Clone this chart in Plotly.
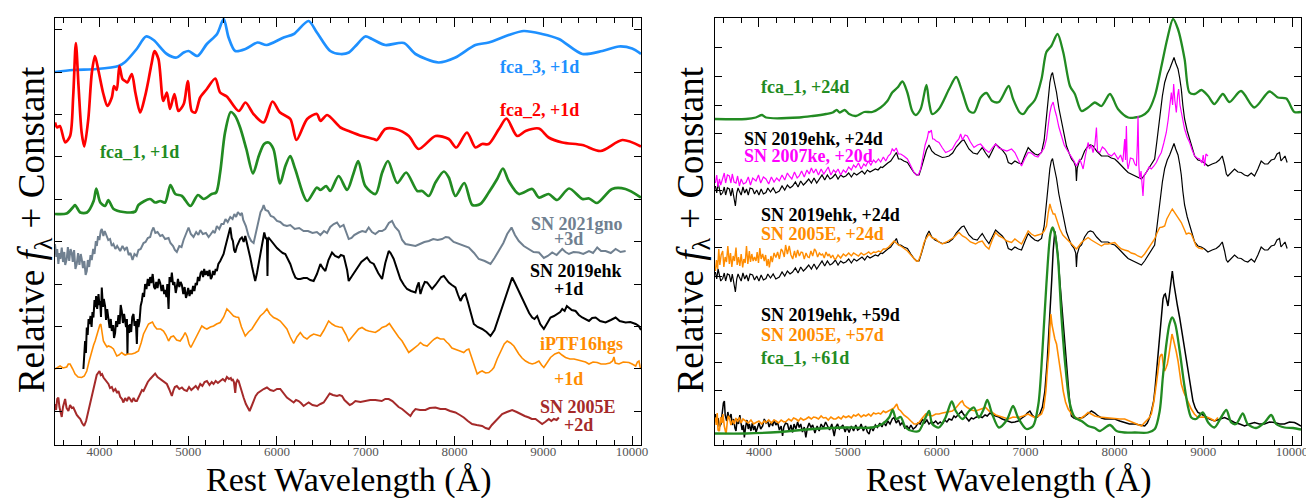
import plotly.graph_objects as go

# ---------------- DATA (rest wavelength in Angstrom, relative flux + constant, arbitrary units) ----------------
# ---- left panel: models at +1d ----
fca3_1d_wave = [3500, 3700, 3970, 4215, 4290, 4420, 4525, 4610, 4760, 4870, 4950, 5005, 5105, 5210, 5325, 5400,
                5455, 5530, 5645, 5780, 5885, 6075, 6190, 6355, 6450, 6600, 6715, 6810, 6885, 6995, 7070, 7220,
                7430, 7560, 7820, 8010, 8235, 8385, 8610, 8780, 8985, 9175, 9440, 9665, 9850, 10000, 10100]
fca3_1d_flux = [373, 375, 376, 379, 383, 396, 408.5, 405, 391, 387.5, 392.5, 394, 389, 401, 411, 426,
                407.5, 394, 396, 402.5, 400, 407.5, 411, 424, 412.5, 394, 391, 392.5, 399, 408.5, 406, 400,
                402, 391, 382.5, 387.5, 400, 402.5, 410, 414, 411, 406, 391, 394, 398.5, 396.5, 391]

fca2_1d_wave = [3500, 3525, 3555, 3615, 3670, 3705, 3735, 3765, 3800, 3830, 3875, 3915, 3950, 3990, 4045, 4090,
                4140, 4165, 4195, 4225, 4260, 4290, 4315, 4365, 4405, 4460, 4515, 4555, 4590, 4620, 4665, 4720,
                4760, 4795, 4845, 4890, 4950, 4995, 5040, 5080, 5135, 5210, 5305, 5360, 5435, 5570, 5645, 5735,
                5850, 5950, 6035, 6150, 6220, 6340, 6450, 6490, 6565, 6715, 6810, 6960, 7090, 7125, 7220, 7335,
                7485, 7595, 7785, 7935, 8020, 8140, 8235, 8310, 8385, 8500, 8585, 8705, 8800, 8950, 9060, 9215,
                9440, 9645, 9890, 10100]
fca2_1d_flux = [322.5, 317.5, 319, 302.5, 309, 349, 402, 359, 312.5, 298.5, 326, 372.5, 389, 374, 351, 339,
                347.5, 359, 355, 379, 366, 364, 362.5, 371, 352.5, 332.5, 349, 366, 382.5, 394, 386, 344,
                352.5, 336, 351, 334, 341, 364, 334, 332.5, 347.5, 356, 366.5, 352.5, 348.5, 334, 342.5, 331,
                322.5, 343.5, 332.5, 326, 305, 326, 331, 324, 330, 317.5, 314, 309, 306, 305, 316, 316,
                309, 296, 309, 306, 297.5, 312.5, 297.5, 301, 301, 316, 326.5, 309, 314, 316.5, 307.5, 302.5,
                300, 294, 305, 298.5]

fca1_1d_wave = [3500, 3630, 3700, 3725, 3785, 3860, 3935, 3965, 4010, 4065, 4100, 4160, 4270, 4405, 4440, 4570,
                4630, 4685, 4740, 4800, 4855, 4930, 5025, 5110, 5175, 5265, 5315, 5360, 5415, 5480, 5530, 5585,
                5655, 5730, 5795, 5855, 5905, 5960, 6035, 6095, 6150, 6205, 6340, 6450, 6490, 6555, 6600, 6695,
                6790, 6860, 6915, 6995, 7110, 7185, 7250, 7355, 7455, 7580, 7635, 7710, 7785, 7880, 7935, 8010,
                8110, 8200, 8290, 8385, 8480, 8545, 8610, 8725, 8875, 8950, 9060, 9155, 9290, 9440, 9515, 9605,
                9775, 9925, 10100]
fca1_1d_flux = [231, 231.5, 237.5, 240, 232.5, 232.5, 244, 256.5, 242.5, 239, 245, 236, 233, 233.5, 240, 246,
                242.5, 244, 242.5, 260, 251, 249, 239, 250, 246, 251, 252.5, 272.5, 312.5, 333, 329, 317.5,
                296, 271.5, 289, 301, 302.5, 296, 261.5, 279, 289, 276, 244, 257.5, 255, 259, 254, 269,
                255, 271, 284, 259, 251, 272.5, 284, 262, 272.5, 254, 254, 249, 262.5, 273.5, 267.5, 249,
                262, 240, 241, 252.5, 266, 276.5, 264, 251, 256, 247.5, 251, 245, 256.5, 246, 246.5, 242,
                256, 256, 247.5]

# ---- left panel: observed spectra (wavelength, flux) ----
sn2021gno_3d = [(3500, 201), (3515, 188), (3525, 196), (3538, 181), (3550, 192), (3560, 186), (3576, 197.5), (3590, 183),
    (3605, 193), (3615, 180), (3632, 186), (3645, 198), (3660, 184), (3675, 196), (3689, 192), (3700, 183), (3715, 195),
    (3730, 176), (3745, 181), (3760, 192), (3775, 180), (3790, 191), (3801, 186), (3815, 177), (3830, 184), (3845, 170),
    (3858, 174), (3870, 185), (3885, 178), (3900, 190), (3914, 185), (3930, 196), (3945, 191), (3960, 204), (3971, 199),
    (3985, 209), (4000, 205), (4015, 214), (4027, 216), (4045, 209), (4060, 214), (4083, 209), (4100, 205), (4120, 206),
    (4140, 199), (4158, 201), (4180, 196), (4200, 199), (4234, 194), (4260, 199), (4285, 195), (4309, 198), (4330, 190),
    (4350, 192), (4373, 185), (4395, 191), (4420, 189), (4440, 195), (4465, 196), (4497, 202), (4520, 203), (4545, 207),
    (4572, 208), (4590, 214), (4609, 217.5), (4630, 212), (4655, 213), (4685, 209), (4710, 210), (4740, 206), (4779, 207),
    (4800, 202), (4830, 199), (4850, 195), (4872, 193), (4900, 199), (4925, 198), (4948, 205), (4975, 211), (5004, 217.5),
    (5030, 211), (5060, 208), (5090, 213), (5115, 210), (5136, 215), (5165, 211), (5200, 212), (5230, 208), (5248, 210),
    (5280, 214), (5300, 212), (5323, 219), (5350, 216), (5375, 221), (5399, 221), (5420, 226), (5445, 223), (5474, 228),
    (5500, 226), (5520, 231), (5540, 228), (5560, 233), (5586, 230), (5605, 232), (5620, 225), (5650, 219), (5680, 209),
    (5710, 204), (5737, 202), (5765, 212), (5790, 224), (5815, 233), (5835, 236), (5850, 240), (5870, 235), (5900, 234),
    (5930, 229), (5962, 228), (6000, 224), (6037, 223), (6075, 220), (6112, 219), (6150, 220), (6200, 216), (6250, 217),
    (6300, 214), (6350, 214), (6400, 212), (6450, 213), (6489, 210), (6530, 214), (6564, 212), (6600, 218), (6640, 221),
    (6676, 222.5), (6710, 218), (6750, 220), (6780, 212), (6808, 206), (6840, 207), (6870, 210), (6921, 212.5), (6960, 214),
    (7000, 213), (7033, 217.5), (7070, 213), (7108, 211), (7150, 214), (7184, 214), (7220, 216), (7260, 222), (7296, 224),
    (7330, 218), (7372, 214), (7410, 205), (7447, 201), (7500, 200), (7560, 199), (7610, 201), (7660, 203), (7710, 204),
    (7760, 206), (7810, 205), (7860, 206), (7900, 208), (7935, 207.5), (7990, 203), (8048, 201), (8100, 199), (8161, 197.5),
    (8220, 192), (8273, 186), (8340, 184), (8405, 181), (8450, 187), (8499, 194), (8550, 202), (8593, 211), (8642, 217.5),
    (8680, 210), (8724, 204), (8780, 199), (8837, 196), (8890, 193), (8950, 192.5), (9006, 187), (9050, 189), (9100, 192.5),
    (9150, 190), (9213, 196), (9250, 193), (9288, 191), (9340, 193), (9401, 192.5), (9450, 191), (9514, 194), (9560, 192),
    (9607, 197.5), (9650, 194), (9701, 194), (9760, 192), (9814, 196), (9870, 193), (9927, 194)]

sn2019ehk_1d = [(3820, 76), (3830, 98), (3839, 104), (3848, 92), (3858, 117.5), (3868, 110), (3878, 126), (3888, 121),
    (3900, 129), (3912, 118), (3922, 133), (3933, 127.5), (3945, 145), (3955, 138), (3963, 149), (3975, 136), (3990, 151),
    (4000, 140), (4008, 144), (4018, 128), (4027, 157.5), (4040, 138), (4050, 146), (4064, 139), (4075, 125), (4088, 136),
    (4102, 127.5), (4115, 117), (4128, 126), (4140, 114), (4155, 120), (4165, 107), (4177, 112), (4188, 124), (4200, 118),
    (4215, 130), (4228, 121), (4240, 140), (4252, 134), (4265, 122), (4278, 131), (4290, 125), (4300, 118), (4310, 126),
    (4316, 91), (4322, 120), (4334, 112), (4346, 121), (4358, 113), (4370, 128), (4384, 131), (4396, 119), (4410, 124),
    (4422, 101), (4430, 126), (4440, 118), (4452, 124), (4465, 139), (4478, 144), (4490, 152), (4503, 148), (4515, 161),
    (4530, 156), (4545, 166), (4560, 159), (4572, 168), (4585, 162), (4600, 171), (4615, 158), (4628, 156), (4640, 163),
    (4655, 157), (4670, 166), (4685, 162), (4700, 154), (4715, 160), (4730, 151), (4741, 155), (4755, 148), (4765, 161),
    (4779, 136), (4790, 168), (4805, 163), (4816, 172.5), (4830, 160), (4845, 163), (4860, 152), (4872, 158), (4885, 166),
    (4900, 158), (4915, 163), (4929, 160), (4945, 151), (4960, 158), (4975, 147), (4985, 150), (5000, 157), (5015, 149),
    (5030, 155), (5041, 151), (5055, 159), (5070, 154), (5085, 162), (5098, 160), (5110, 168), (5125, 164), (5140, 172),
    (5154, 174), (5168, 168), (5180, 176), (5195, 170), (5211, 174), (5225, 169), (5240, 175), (5255, 166), (5267, 168),
    (5280, 174), (5295, 170), (5310, 176), (5323, 174), (5340, 181), (5361, 184), (5380, 187), (5399, 191), (5415, 197),
    (5436, 204), (5455, 210), (5474, 217.5), (5490, 207), (5504, 204), (5517, 195), (5530, 192.5), (5550, 199), (5568, 202.5),
    (5585, 206), (5605, 207.5), (5625, 203), (5643, 209), (5660, 203), (5680, 194), (5699, 187.5), (5720, 178), (5740, 170),
    (5755, 164), (5775, 172), (5795, 183), (5812, 191), (5835, 203), (5857, 212.5), (5875, 206), (5887, 207.5), (5893, 169),
    (5899, 205), (5910, 207), (5935, 204), (5962, 201), (6000, 197), (6037, 194), (6065, 192), (6094, 191), (6120, 187),
    (6150, 181), (6180, 173), (6207, 167.5), (6235, 166), (6263, 166), (6300, 167), (6338, 167), (6375, 165), (6413, 164),
    (6450, 171), (6489, 181), (6515, 177), (6545, 174), (6580, 185), (6620, 192.5), (6655, 189), (6695, 187.5), (6720, 190),
    (6752, 189), (6790, 175), (6808, 164), (6845, 169), (6883, 174), (6950, 183), (7014, 187.5), (7050, 183), (7090, 181),
    (7140, 172), (7184, 166), (7220, 182), (7259, 194), (7280, 192), (7315, 186), (7350, 176), (7390, 166), (7430, 160),
    (7465, 156), (7510, 154), (7560, 152.5), (7580, 159), (7597, 162.5), (7607, 156), (7616, 151), (7640, 158), (7665, 163),
    (7691, 162.5), (7720, 159), (7747, 156), (7785, 160), (7822, 164), (7850, 168), (7879, 169), (7905, 166), (7935, 162.5),
    (7970, 160), (8010, 157.5), (8040, 150), (8067, 144), (8095, 149), (8123, 151), (8150, 143), (8180, 132), (8217, 121),
    (8260, 118), (8311, 116), (8360, 113), (8405, 109), (8450, 115), (8499, 127.5), (8545, 140), (8593, 151), (8620, 160),
    (8649, 167.5), (8680, 162), (8724, 154), (8760, 147), (8800, 139), (8840, 132), (8875, 127.5), (8900, 126), (8931, 129),
    (8965, 121), (9006, 116), (9040, 121), (9081, 127.5), (9120, 129), (9157, 131), (9190, 133), (9213, 136), (9240, 134),
    (9265, 139), (9288, 137.5), (9320, 135), (9363, 134), (9400, 130), (9438, 127.5), (9475, 126), (9514, 124), (9550, 127),
    (9589, 127.5), (9640, 124), (9701, 122.5), (9760, 125), (9814, 127.5), (9860, 124), (9927, 122.5), (9980, 123),
    (10040, 121), (10075, 119), (10100, 115)]

iptf16hgs_1d = [(3500, 76), (3530, 78), (3557, 79), (3590, 77), (3632, 78), (3650, 81), (3670, 81), (3700, 76), (3726, 71),
    (3760, 68), (3801, 67.5), (3830, 69), (3858, 74), (3885, 84), (3914, 94), (3935, 100), (3952, 104), (3970, 110),
    (3989, 117.5), (4005, 120), (4016, 121), (4030, 112), (4045, 104), (4064, 101), (4085, 98), (4102, 99), (4130, 98),
    (4158, 96), (4175, 92), (4196, 89), (4220, 90), (4252, 92.5), (4270, 91), (4290, 90), (4320, 91), (4365, 91), (4400, 92),
    (4440, 94), (4470, 102), (4497, 111), (4525, 116), (4553, 121), (4575, 122), (4598, 123), (4620, 119), (4647, 116),
    (4690, 116), (4722, 114), (4750, 110), (4779, 104), (4805, 108), (4835, 109), (4870, 105), (4910, 104), (4940, 108),
    (4966, 112.5), (4990, 108), (5010, 101), (5030, 97.5), (5060, 103), (5098, 109), (5125, 114), (5154, 119), (5185, 117),
    (5211, 116), (5250, 118), (5286, 119), (5320, 121), (5361, 122.5), (5400, 128), (5436, 136), (5470, 133), (5511, 129),
    (5540, 128), (5568, 127.5), (5600, 118), (5643, 109), (5680, 113), (5718, 116), (5760, 122), (5812, 129), (5850, 132),
    (5887, 136), (5920, 131), (5962, 127.5), (6000, 126), (6037, 124), (6075, 120), (6112, 116), (6150, 108), (6188, 101.5),
    (6225, 108), (6263, 112.5), (6300, 108), (6338, 106), (6375, 109), (6413, 111), (6450, 110), (6489, 109), (6530, 115),
    (6582, 124), (6620, 121), (6657, 119), (6700, 118), (6733, 117.5), (6780, 110), (6808, 104), (6845, 108), (6883, 112.5),
    (6920, 116), (6958, 117.5), (7000, 115), (7033, 114), (7070, 113), (7108, 112.5), (7150, 115), (7184, 117.5), (7230, 119),
    (7266, 121.5), (7300, 117), (7334, 112.5), (7370, 108), (7409, 104), (7450, 97), (7484, 92.5), (7520, 95), (7560, 97.5),
    (7590, 100), (7616, 102.5), (7650, 100), (7691, 99), (7720, 102), (7747, 104), (7775, 106), (7804, 107.5), (7840, 106),
    (7879, 106), (7910, 103), (7935, 101), (7970, 97), (8010, 96), (8060, 94), (8104, 92.5), (8135, 95), (8161, 96),
    (8190, 88), (8217, 81), (8240, 73), (8255, 71), (8285, 73), (8311, 74), (8350, 72), (8386, 72.5), (8420, 75),
    (8443, 77.5), (8480, 86), (8518, 94), (8560, 101), (8593, 104), (8630, 102), (8668, 99), (8700, 94), (8724, 91),
    (8760, 87), (8800, 84), (8840, 82), (8875, 81), (8910, 82), (8950, 84), (8980, 80), (9006, 77.5), (9040, 82),
    (9081, 87.5), (9130, 91), (9175, 92.5), (9210, 90), (9250, 87.5), (9300, 86), (9345, 86), (9390, 85), (9438, 84),
    (9475, 83), (9514, 81), (9560, 83), (9607, 82.5), (9650, 81), (9701, 81), (9750, 82), (9780, 84), (9795, 88), (9810, 82),
    (9852, 81), (9900, 83), (9964, 82.5), (10000, 81), (10040, 79), (10060, 83), (10077, 84), (10090, 78), (10100, 76)]

sn2005e_2d = [(3500, 41), (3512, 35), (3525, 46), (3538, 47.5), (3550, 38), (3565, 33), (3576, 28), (3590, 38), (3605, 44),
    (3614, 46), (3630, 37), (3651, 34), (3670, 40), (3690, 37), (3707, 37.5), (3725, 33), (3745, 30), (3764, 28), (3785, 26),
    (3805, 22), (3828, 19), (3850, 24), (3877, 34), (3900, 43), (3915, 50), (3933, 57.5), (3950, 64), (3970, 70), (3985, 72),
    (4001, 74), (4015, 70), (4030, 71), (4046, 67.5), (4065, 65), (4085, 62), (4102, 61), (4120, 57), (4140, 58), (4158, 54),
    (4180, 56), (4200, 52), (4215, 54), (4235, 48), (4255, 46), (4271, 42.5), (4290, 47), (4310, 44), (4330, 48), (4346, 46),
    (4365, 43), (4385, 47), (4405, 44), (4422, 44), (4440, 48), (4460, 51), (4480, 55), (4497, 54), (4520, 59), (4545, 63),
    (4572, 66), (4600, 69), (4628, 71.5), (4655, 68), (4685, 66), (4710, 64), (4735, 62), (4760, 61), (4785, 56), (4800, 52),
    (4816, 49), (4835, 55), (4850, 58), (4872, 59), (4900, 56), (4929, 57.5), (4955, 55), (4985, 54), (5010, 58), (5035, 55),
    (5060, 57.5), (5085, 59), (5110, 56), (5136, 61), (5160, 59), (5185, 63), (5211, 64), (5240, 60), (5265, 63), (5286, 61),
    (5310, 64), (5335, 62), (5361, 64), (5390, 66), (5415, 64), (5436, 68), (5460, 66), (5480, 67), (5492, 64), (5500, 66),
    (5515, 63), (5525, 56), (5530, 52), (5540, 62), (5555, 65), (5568, 64), (5590, 57), (5610, 50), (5624, 47.5), (5650, 41),
    (5670, 37), (5692, 34), (5715, 39), (5737, 44), (5760, 49), (5785, 52), (5812, 54), (5850, 56), (5887, 57.5), (5925, 55),
    (5962, 54), (6000, 56), (6037, 56), (6075, 52), (6112, 47.5), (6150, 45), (6188, 42.5), (6215, 45), (6244, 44), (6270, 42),
    (6300, 39), (6330, 41), (6357, 42.5), (6400, 40), (6451, 39), (6490, 41), (6526, 42.5), (6560, 47), (6594, 51.5), (6630, 50),
    (6676, 49), (6705, 50), (6733, 49), (6760, 45), (6789, 42.5), (6820, 40), (6845, 41), (6883, 44), (6940, 43), (6996, 44),
    (7050, 45), (7108, 45), (7180, 44), (7220, 46), (7259, 46), (7300, 44), (7334, 41), (7370, 38), (7409, 36), (7450, 33),
    (7480, 31), (7503, 29), (7530, 33), (7560, 36), (7610, 35), (7672, 35), (7720, 37), (7785, 37.5), (7840, 36), (7898, 36),
    (7950, 34), (8010, 32.5), (8060, 30), (8104, 27.5), (8150, 24), (8198, 21), (8250, 20), (8311, 19), (8350, 17), (8386, 16),
    (8420, 20), (8461, 24), (8500, 28), (8536, 31), (8590, 33), (8649, 35), (8700, 33), (8743, 31), (8790, 29), (8837, 27.5),
    (8870, 26), (8912, 26), (8950, 23), (8987, 21), (9020, 23), (9062, 26), (9090, 24), (9119, 26), (9150, 25), (9175, 27.5)]

# ---- right panel ----
fca1_24d_wave = [3500, 3855, 3965, 4035, 4080, 4455, 4605, 4755, 4830, 4875, 4910, 4965, 5015, 5090, 5185, 5275,
                 5370, 5445, 5500, 5560, 5615, 5670, 5725, 5765, 5820, 5885, 5915, 5950, 6025, 6140, 6220, 6290,
                 6365, 6420, 6495, 6560, 6625, 6700, 6810, 6860, 6935, 6975, 7030, 7105, 7180, 7235, 7290, 7360,
                 7425, 7500, 7555, 7630, 7705, 7780, 7855, 7950, 8040, 8155, 8230, 8305, 8380, 8455, 8530, 8595,
                 8660, 8715, 8790, 8845, 8905, 8980, 9055, 9125, 9220, 9295, 9425, 9575, 9745, 9840, 9935, 10025,
                 10100]
fca1_24d_flux = [326, 326, 327.5, 330, 327.5, 327.5, 329, 331, 332.5, 335, 332.5, 335, 331, 329, 333, 333,
                 337.5, 344, 352.5, 357.5, 363.5, 352.5, 334, 330, 336, 360, 342.5, 331, 336, 356, 368, 352.5,
                 334, 332.5, 347.5, 352, 344, 343, 359, 346, 332.5, 331, 337.5, 345, 366, 393, 399, 411,
                 392.5, 359, 351, 334, 337.5, 342.5, 339, 351, 336, 327.5, 327.5, 329, 334, 349, 379, 406,
                 426, 416, 386, 352.5, 351, 355, 349, 341, 351, 343, 354, 337.5, 353.5, 347.5, 346.5, 333,
                 333]

# SN 2019ehk at +24d (shown twice, with two different constants)
sn2019ehk_24d = [(3510, 259), (3525, 252), (3540, 262), (3555, 255), (3570, 250), (3592, 252.5), (3610, 258), (3625, 250),
    (3645, 257), (3667, 256), (3685, 249), (3700, 257), (3720, 248), (3735, 239), (3750, 252), (3765, 257), (3779, 254),
    (3800, 250), (3820, 258), (3840, 252), (3860, 256), (3880, 250), (3900, 257), (3929, 256), (3950, 251), (3975, 255),
    (4000, 250), (4025, 256), (4050, 251), (4079, 252.5), (4100, 257), (4130, 253), (4160, 257), (4190, 252), (4229, 254),
    (4260, 259), (4290, 255), (4320, 260), (4350, 257), (4379, 259), (4410, 263), (4440, 258), (4470, 264), (4500, 260),
    (4528, 262.5), (4560, 266), (4590, 262), (4620, 267), (4650, 262), (4678, 266), (4710, 270), (4740, 265), (4770, 270),
    (4800, 266), (4828, 267.5), (4860, 271), (4890, 266), (4920, 270), (4950, 268), (4978, 269), (5010, 272), (5040, 268),
    (5070, 272), (5100, 270), (5128, 272), (5160, 274), (5190, 271), (5220, 275), (5250, 273), (5277, 274), (5310, 276),
    (5340, 275), (5370, 278), (5390, 277.5), (5420, 280), (5450, 282), (5483, 284), (5510, 288), (5530, 290), (5547, 292.5),
    (5570, 286), (5596, 286), (5630, 284), (5671, 282.5), (5710, 277), (5745, 272.5), (5775, 270), (5802, 270), (5830, 278),
    (5858, 286), (5885, 295), (5914, 300), (5945, 294), (5981, 291), (6020, 289), (6064, 287.5), (6100, 288), (6139, 289),
    (6180, 292), (6220, 298), (6251, 301), (6280, 304), (6307, 305), (6335, 300), (6363, 296), (6410, 292), (6457, 291),
    (6490, 295), (6513, 297.5), (6550, 292), (6588, 287.5), (6625, 294), (6663, 301), (6700, 298), (6738, 295), (6780, 290),
    (6806, 282.5), (6843, 281), (6880, 284), (6920, 282), (6955, 281), (6990, 289), (7030, 297.5), (7065, 294), (7105, 291),
    (7140, 290), (7180, 292.5), (7210, 305), (7236, 329), (7255, 348), (7274, 362.5), (7290, 370), (7304, 372.5), (7320, 365),
    (7349, 352.5), (7375, 337), (7405, 322.5), (7435, 309), (7461, 299), (7490, 292), (7517, 286), (7545, 283), (7565, 278),
    (7573, 264), (7582, 277), (7605, 284), (7630, 286), (7665, 294), (7704, 299), (7730, 300), (7760, 299), (7800, 294),
    (7854, 289), (7900, 289), (7929, 289), (7965, 287), (8004, 286), (8040, 283), (8079, 279), (8115, 276), (8154, 272.5),
    (8190, 271), (8229, 269), (8265, 268), (8304, 266), (8340, 270), (8379, 276), (8420, 281), (8453, 286), (8480, 305),
    (8510, 329), (8540, 349), (8566, 362.5), (8595, 371), (8622, 376), (8645, 382), (8671, 387.5), (8690, 382), (8716, 376),
    (8735, 367), (8753, 356), (8770, 340), (8790, 326), (8820, 314), (8847, 306), (8875, 296), (8903, 289), (8940, 285),
    (8978, 284), (9015, 282), (9053, 279), (9100, 281), (9146, 282.5), (9180, 285), (9214, 289), (9240, 280), (9260, 271),
    (9277, 269), (9310, 272), (9352, 276), (9390, 273), (9427, 272.5), (9465, 270), (9502, 269), (9540, 272), (9577, 269),
    (9615, 276), (9652, 284), (9690, 281), (9727, 281), (9765, 285), (9802, 286), (9830, 291), (9858, 292.5), (9875, 284),
    (9895, 286), (9920, 289), (9944, 282.5)]
sn2019ehk_24d_constants = [0, -86]

sn2007ke_20d = [(3510, 262), (3525, 270), (3540, 258), (3555, 266), (3570, 260), (3592, 266), (3610, 272), (3625, 262),
    (3645, 270), (3667, 269), (3685, 262), (3700, 271), (3720, 263), (3742, 262), (3760, 269), (3780, 259), (3800, 266),
    (3825, 261), (3854, 262.5), (3880, 268), (3905, 260), (3930, 267), (3967, 264), (3995, 270), (4020, 262), (4050, 268),
    (4079, 266), (4110, 261), (4140, 268), (4170, 263), (4200, 267), (4229, 264), (4260, 270), (4290, 265), (4320, 272),
    (4341, 269), (4370, 266), (4400, 273), (4430, 267), (4453, 269), (4480, 274), (4510, 268), (4540, 275), (4566, 271),
    (4590, 277), (4615, 272), (4641, 276), (4670, 270), (4700, 276), (4730, 271), (4753, 274), (4780, 278), (4810, 270),
    (4840, 275), (4865, 272.5), (4890, 276), (4920, 270), (4950, 275), (4978, 272.5), (5010, 278), (5040, 275), (5065, 280),
    (5090, 277.5), (5120, 282), (5150, 276), (5180, 281), (5203, 279), (5230, 284), (5260, 280), (5290, 285), (5315, 282.5),
    (5345, 286), (5370, 283), (5400, 288), (5427, 284), (5455, 289), (5480, 291), (5500, 296), (5521, 294), (5545, 297),
    (5570, 291), (5596, 291), (5630, 289), (5671, 286), (5710, 279), (5745, 272.5), (5770, 270), (5794, 270), (5820, 276),
    (5845, 288), (5870, 300), (5895, 307), (5910, 314), (5922, 312.5), (5940, 315), (5955, 306), (5970, 306), (5995, 304),
    (6026, 302.5), (6065, 297), (6101, 292.5), (6140, 294), (6176, 296), (6220, 303), (6250, 306), (6270, 311), (6290, 305),
    (6320, 310), (6345, 309), (6380, 303), (6420, 297.5), (6460, 300), (6494, 301), (6540, 296), (6588, 292.5), (6625, 297),
    (6663, 301), (6700, 297), (6738, 296), (6790, 294), (6843, 296), (6880, 292.5), (6920, 285), (6955, 279), (6990, 286),
    (7030, 292.5), (7065, 292), (7105, 289), (7140, 288), (7180, 292.5), (7210, 297), (7236, 306), (7255, 322), (7274, 332.5),
    (7290, 339), (7311, 343), (7330, 335), (7349, 329), (7375, 318), (7405, 309), (7435, 300), (7461, 296), (7490, 292),
    (7517, 289), (7545, 284), (7573, 279), (7590, 282), (7611, 286), (7630, 281), (7648, 276), (7675, 290), (7704, 302.5),
    (7720, 296), (7740, 300), (7760, 292.5), (7780, 300), (7798, 317.5), (7810, 294), (7836, 292.5), (7865, 298), (7892, 296),
    (7930, 291), (7967, 289), (8000, 292), (8041, 286), (8070, 290), (8095, 283), (8116, 306), (8125, 285), (8135, 319),
    (8145, 282), (8154, 276), (8180, 287), (8210, 286), (8230, 281), (8248, 279), (8258, 300), (8266, 329), (8275, 280),
    (8285, 266), (8300, 274), (8322, 249), (8335, 270), (8360, 272.5), (8390, 278), (8416, 276), (8445, 279), (8472, 282.5),
    (8500, 288), (8528, 292.5), (8556, 302), (8584, 312.5), (8605, 325), (8622, 336), (8641, 352.5), (8655, 340), (8667, 361),
    (8680, 345), (8697, 332.5), (8712, 350), (8723, 356), (8738, 340), (8753, 332.5), (8770, 323), (8790, 316), (8818, 308),
    (8847, 302.5), (8875, 295), (8903, 289), (8930, 287), (8959, 286), (8985, 282), (9000, 290), (9015, 279), (9030, 291),
    (9053, 289)]

sn2005e_24d = [(3510, 174), (3522, 185), (3535, 176), (3548, 196), (3560, 180), (3575, 190), (3592, 194), (3605, 178),
    (3620, 188), (3635, 183), (3650, 199), (3667, 181), (3680, 192), (3695, 178), (3710, 189), (3725, 184), (3742, 197.5),
    (3755, 180), (3770, 188), (3785, 179), (3800, 191), (3817, 177.5), (3830, 186), (3845, 182), (3860, 199), (3875, 181),
    (3892, 194), (3905, 183), (3920, 191), (3935, 184), (3950, 188), (3967, 184), (3980, 193), (3995, 182), (4010, 197),
    (4025, 186), (4042, 191), (4060, 184), (4075, 190), (4090, 179), (4105, 186), (4117, 177.5), (4135, 189), (4150, 183),
    (4170, 192), (4191, 187.5), (4210, 193), (4230, 186), (4250, 196), (4266, 194), (4285, 188), (4300, 200), (4320, 191),
    (4341, 199), (4360, 190), (4380, 186), (4400, 194), (4416, 187.5), (4435, 195), (4455, 189), (4475, 193), (4491, 192.5),
    (4510, 186), (4530, 192), (4550, 188), (4566, 187.5), (4585, 194), (4605, 189), (4625, 196), (4641, 194), (4660, 188),
    (4680, 192), (4700, 190), (4716, 191), (4735, 187), (4755, 193), (4775, 189), (4791, 191), (4810, 187), (4830, 190),
    (4850, 186), (4865, 186), (4890, 190), (4920, 187), (4950, 191), (4978, 189), (5010, 192), (5040, 189), (5065, 192),
    (5090, 191), (5120, 189), (5150, 192), (5180, 190), (5203, 191), (5235, 193), (5260, 191), (5290, 193), (5315, 192.5),
    (5345, 194), (5370, 193), (5400, 196), (5427, 196), (5460, 198), (5490, 201), (5521, 204), (5545, 202), (5570, 200),
    (5596, 199), (5630, 197), (5671, 194), (5710, 190), (5745, 186), (5770, 184), (5794, 184), (5820, 190), (5845, 198),
    (5858, 202.5), (5885, 207), (5914, 211), (5950, 207), (5989, 206), (6025, 203), (6064, 201), (6110, 203), (6157, 206),
    (6200, 208), (6230, 211), (6251, 212.5), (6290, 209), (6326, 207.5), (6380, 203), (6438, 201), (6475, 203), (6513, 204),
    (6550, 199), (6588, 196), (6625, 205), (6663, 212.5), (6700, 209), (6738, 207.5), (6790, 204), (6843, 202.5), (6880, 206),
    (6920, 203), (6955, 201), (6990, 207), (7030, 214), (7065, 211), (7105, 209), (7140, 210), (7180, 211), (7210, 214),
    (7236, 219), (7255, 232), (7274, 241), (7290, 236), (7311, 231), (7330, 231), (7360, 222), (7386, 216), (7420, 210),
    (7461, 206), (7490, 203), (7517, 201), (7545, 198), (7573, 196), (7600, 199), (7630, 202.5), (7665, 205), (7704, 207.5),
    (7740, 205), (7779, 202.5), (7815, 201), (7854, 199), (7890, 201), (7929, 201), (7965, 202), (8004, 202.5), (8040, 199),
    (8079, 196), (8115, 195), (8154, 194), (8190, 192), (8229, 191), (8265, 189), (8304, 187.5), (8340, 191), (8379, 196),
    (8415, 200), (8453, 206), (8480, 212), (8510, 217.5), (8540, 218), (8566, 219), (8590, 226), (8614, 231), (8632, 233),
    (8652, 236), (8675, 233), (8697, 231), (8725, 227), (8753, 222.5), (8780, 217), (8809, 211), (8837, 212), (8865, 211),
    (8893, 205), (8921, 199), (8950, 197), (8978, 196), (9000, 196)]

sn2019ehk_59d = [(3510, 31), (3525, 22), (3540, 27), (3555, 18), (3573, 21), (3590, 35), (3600, 42), (3611, 44), (3620, 30),
    (3637, 24), (3650, 33), (3665, 26), (3686, 31), (3700, 20), (3715, 26), (3730, 17), (3742, 14), (3755, 26), (3770, 21),
    (3785, 30), (3798, 24), (3810, 15), (3825, 20), (3836, 7.5), (3850, 18), (3865, 25), (3880, 16), (3892, 21), (3910, 14),
    (3925, 22), (3940, 15), (3955, 19), (3967, 12.5), (3985, 18), (4000, 22), (4020, 16), (4042, 19), (4060, 26), (4080, 22),
    (4098, 24), (4115, 18), (4135, 23), (4154, 19), (4170, 25), (4190, 20), (4210, 22.5), (4230, 15), (4250, 19), (4266, 9),
    (4280, 18), (4300, 22), (4322, 21), (4340, 14), (4360, 20), (4379, 12.5), (4395, 21), (4415, 16), (4435, 23), (4453, 17.5),
    (4470, 21), (4490, 13), (4510, 18), (4528, 7.5), (4545, 17), (4565, 22), (4585, 17.5), (4605, 20), (4630, 12), (4655, 19),
    (4678, 14), (4700, 21), (4725, 17), (4750, 23), (4772, 19), (4795, 15), (4820, 21), (4847, 9), (4865, 18), (4885, 21),
    (4905, 16), (4922, 17.5), (4945, 20), (4970, 13), (4990, 18), (5015, 12.5), (5040, 19), (5065, 14), (5090, 20), (5110, 15),
    (5128, 16), (5150, 21), (5175, 14), (5200, 19), (5220, 13), (5240, 11), (5260, 18), (5285, 14), (5310, 20), (5334, 17.5),
    (5360, 22), (5385, 18), (5405, 23), (5427, 19), (5450, 24), (5475, 21), (5500, 26), (5521, 27.5), (5545, 22), (5570, 25),
    (5590, 20), (5614, 22.5), (5640, 17), (5665, 19), (5689, 16), (5710, 20), (5735, 16), (5764, 18), (5790, 22), (5815, 21),
    (5839, 26), (5865, 22), (5890, 25), (5914, 21), (5940, 23), (5965, 22), (5989, 24), (6015, 21), (6040, 23), (6064, 21),
    (6090, 25), (6115, 23), (6139, 26), (6170, 25), (6195, 29), (6214, 27.5), (6240, 30), (6260, 31), (6281, 34), (6300, 31),
    (6330, 28), (6363, 24), (6390, 27), (6415, 26), (6438, 27.5), (6475, 29), (6513, 27.5), (6545, 30), (6569, 29), (6600, 32),
    (6630, 30), (6663, 29), (6700, 28), (6738, 26), (6790, 24), (6843, 22.5), (6880, 23), (6918, 24), (6960, 27), (6993, 29),
    (7020, 32), (7049, 34), (7075, 30), (7105, 27.5), (7135, 28), (7161, 31), (7190, 38), (7218, 54), (7245, 85), (7274, 127.5),
    (7295, 165), (7311, 194), (7322, 208), (7330, 214), (7345, 205), (7367, 187.5), (7385, 165), (7405, 141), (7425, 120),
    (7442, 101), (7460, 80), (7480, 61), (7500, 40), (7517, 29), (7545, 27), (7573, 26), (7610, 27), (7648, 27.5), (7700, 31),
    (7742, 34), (7780, 32), (7817, 29), (7855, 27), (7892, 26), (7950, 26), (8004, 26), (8060, 24), (8116, 22.5), (8170, 21),
    (8229, 21), (8285, 20), (8341, 19), (8370, 22), (8397, 27.5), (8420, 35), (8442, 44), (8458, 57), (8472, 71), (8485, 86),
    (8498, 101), (8510, 115), (8521, 127.5), (8535, 139), (8547, 146), (8560, 150), (8573, 151), (8588, 145), (8603, 139),
    (8617, 149), (8629, 157.5), (8640, 166), (8652, 174), (8668, 162), (8686, 151), (8710, 139), (8734, 127.5), (8752, 117),
    (8772, 107.5), (8800, 90), (8828, 74), (8856, 58), (8884, 44), (8910, 37), (8940, 32.5), (8978, 31), (9015, 29), (9070, 26),
    (9127, 24), (9185, 26), (9240, 27.5), (9300, 25), (9352, 22.5), (9410, 21), (9465, 19), (9520, 21), (9577, 22.5), (9630, 21),
    (9689, 21), (9745, 23), (9802, 22.5), (9860, 21), (9914, 21), (9970, 23), (10026, 22.5), (10060, 21), (10100, 19)]

sn2005e_57d = [(3510, 27.5), (3520, 20), (3530, 32), (3540, 15), (3555, 14), (3570, 28), (3585, 22), (3595, 31), (3610, 19),
    (3630, 11), (3645, 24), (3655, 29), (3667, 27.5), (3685, 20), (3705, 25), (3723, 21), (3740, 27), (3760, 23), (3779, 27.5),
    (3800, 22), (3820, 26), (3854, 24), (3880, 22), (3910, 25), (3940, 21), (3967, 22.5), (4000, 24), (4030, 21), (4060, 24),
    (4079, 22.5), (4110, 25), (4140, 22), (4170, 25), (4191, 24), (4220, 22), (4250, 25), (4280, 23), (4304, 23.5), (4335, 26),
    (4365, 24), (4390, 27), (4416, 26), (4445, 24), (4470, 27), (4500, 25), (4528, 26), (4560, 28), (4590, 26), (4615, 28),
    (4641, 27.5), (4670, 26), (4700, 29), (4725, 27), (4753, 27.5), (4780, 25), (4810, 28), (4840, 26), (4865, 26), (4895, 28),
    (4925, 26), (4950, 29), (4978, 27.5), (5010, 29), (5040, 27), (5065, 30), (5090, 29), (5120, 31), (5150, 28), (5180, 30),
    (5203, 29), (5235, 31), (5260, 29), (5290, 32), (5315, 31), (5345, 32), (5370, 31), (5400, 34), (5427, 32.5), (5460, 34),
    (5480, 35), (5502, 36), (5520, 37), (5535, 39), (5551, 41), (5570, 36), (5596, 34), (5630, 30), (5671, 27.5), (5710, 24),
    (5745, 21), (5775, 21), (5802, 22.5), (5830, 26), (5855, 29), (5877, 31), (5910, 30), (5951, 29), (5990, 31), (6026, 31),
    (6065, 32), (6101, 32.5), (6140, 33), (6176, 34), (6215, 37), (6251, 41), (6270, 43), (6289, 44), (6310, 40), (6345, 37.5),
    (6390, 35), (6438, 34), (6475, 35), (6513, 36), (6551, 37.5), (6590, 34), (6626, 32.5), (6665, 30), (6700, 29), (6760, 28),
    (6806, 26), (6860, 28), (6918, 27.5), (6975, 29), (7030, 31), (7070, 29), (7105, 27.5), (7145, 29), (7180, 31), (7205, 37),
    (7229, 54), (7245, 75), (7263, 94), (7275, 118), (7285, 131), (7298, 120), (7311, 114), (7330, 106), (7349, 101), (7368, 90),
    (7386, 81), (7405, 67), (7424, 54), (7450, 43), (7480, 36), (7510, 32), (7536, 29), (7575, 27), (7611, 26), (7660, 29),
    (7704, 32.5), (7740, 31), (7779, 29), (7830, 28), (7892, 27.5), (7950, 27), (8004, 26), (8060, 26), (8116, 26), (8170, 24),
    (8229, 22.5), (8265, 21), (8304, 19), (8335, 22), (8360, 24), (8390, 27), (8416, 31), (8445, 44), (8472, 61), (8492, 76),
    (8510, 87.5), (8523, 90), (8536, 91), (8550, 80), (8566, 74), (8580, 77), (8596, 81), (8610, 88), (8622, 94), (8636, 103),
    (8648, 111), (8663, 106), (8678, 101), (8697, 93), (8716, 84), (8735, 72), (8753, 61), (8780, 53), (8809, 47.5), (8837, 41),
    (8865, 36), (8900, 31), (8940, 27.5), (8995, 28), (9053, 27.5), (9090, 26), (9127, 24), (9150, 26), (9165, 27.5)]

fca1_61d_wave = [3500, 3855, 4230, 4605, 4980, 5275, 5390, 5465, 5505, 5545, 5595, 5650, 5725, 5800, 5875, 5915,
                 5950, 6025, 6100, 6170, 6215, 6290, 6365, 6420, 6475, 6530, 6570, 6625, 6700, 6790, 6860, 6915,
                 7010, 7085, 7145, 7190, 7235, 7280, 7305, 7330, 7365, 7405, 7450, 7500, 7555, 7630, 7705, 7780,
                 7835, 7950, 8025, 8115, 8230, 8380, 8455, 8510, 8545, 8585, 8620, 8650, 8685, 8735, 8785, 8830,
                 8865, 8920, 8995, 9055, 9125, 9200, 9260, 9315, 9370, 9445, 9500, 9595, 9690, 9765, 9820, 9915,
                 10010, 10100]
fca1_61d_flux = [11.5, 11.5, 13, 16, 17.5, 17.5, 21, 27.5, 35, 26, 28, 17.5, 14, 14, 27.5, 34,
                 21, 17.5, 27.5, 43.5, 34, 26, 34, 37.5, 27.5, 36, 45, 31, 17.5, 25, 39, 27.5,
                 16, 19, 41, 94, 161, 211, 217.5, 211, 187, 127.5, 77.5, 41, 27.5, 24, 19, 17,
                 14, 20, 14, 12.5, 12.5, 12.5, 16, 34, 67.5, 101, 121, 127.5, 121, 94, 61, 37.5,
                 27.5, 26, 32.5, 22.5, 17.5, 27.5, 35, 22.5, 21, 31.5, 21, 17, 22.5, 30, 21, 17.5,
                 17, 15.5]

# tick labels
xtick_values = [4000, 5000, 6000, 7000, 8000, 9000, 10000]
xtick_text = ["4000", "5000", "6000", "7000", "8000", "9000", "10000"]

for w, f in [(fca3_1d_wave, fca3_1d_flux), (fca2_1d_wave, fca2_1d_flux), (fca1_1d_wave, fca1_1d_flux),
             (fca1_24d_wave, fca1_24d_flux), (fca1_61d_wave, fca1_61d_flux)]:
    assert len(w) == len(f), (len(w), len(f))

# ---------------- FIGURE ----------------
FONT = "Liberation Serif"
BLUE, RED, GREEN, GRAY = "#1E90FF", "#FF0000", "#228B22", "#708090"
BLACK, ORANGE, BROWN, MAGENTA = "#000000", "#FF8C00", "#A52A2A", "#FF00FF"

fig = go.Figure()


def add(w, f, color, width, panel, smooth=False):
    fig.add_trace(go.Scatter(
        x=w, y=f, mode="lines",
        line=dict(color=color, width=width, shape="spline" if smooth else "linear", smoothing=0.8),
        xaxis="x" if panel == 1 else "x2", yaxis="y" if panel == 1 else "y2",
        hoverinfo="skip", showlegend=False))


def unzip(pairs, const=0.0):
    return [p[0] for p in pairs], [p[1] + const for p in pairs]


# left panel
add(fca3_1d_wave, fca3_1d_flux, BLUE, 2.7, 1, True)
add(fca2_1d_wave, fca2_1d_flux, RED, 2.7, 1, True)
add(fca1_1d_wave, fca1_1d_flux, GREEN, 2.7, 1, True)
add(*unzip(sn2021gno_3d), GRAY, 2.0, 1)
add(*unzip(sn2019ehk_1d), BLACK, 2.0, 1)
add(*unzip(iptf16hgs_1d), ORANGE, 1.6, 1)
add(*unzip(sn2005e_2d), BROWN, 2.0, 1)

# right panel
add(fca1_24d_wave, fca1_24d_flux, GREEN, 2.3, 2, True)
add(*unzip(sn2019ehk_24d, sn2019ehk_24d_constants[0]), BLACK, 1.2, 2)
add(*unzip(sn2007ke_20d), MAGENTA, 1.2, 2)
add(*unzip(sn2019ehk_24d, sn2019ehk_24d_constants[1]), BLACK, 1.2, 2)
add(*unzip(sn2005e_24d), ORANGE, 1.4, 2)
add(*unzip(sn2019ehk_59d), BLACK, 1.5, 2)
add(*unzip(sn2005e_57d), ORANGE, 1.6, 2)
add(fca1_61d_wave, fca1_61d_flux, GREEN, 2.3, 2, True)

YMAX = 427
left_yticks = [33.7 + 42.4 * k for k in range(10)]
right_yticks = [54.3 + 28.56 * k for k in range(13)]

xaxis_common = dict(
    range=[3500, 10100], tickvals=xtick_values, ticktext=xtick_text,
    ticks="inside", ticklen=9, tickwidth=1, tickcolor="black", ticklabelstandoff=-6,
    minor=dict(dtick=200, tick0=0, ticks="inside", ticklen=5, tickwidth=1, tickcolor="black"),
    showline=True, linecolor="black", linewidth=1, mirror="ticks",
    showgrid=False, zeroline=False,
    tickfont=dict(family=FONT, size=13, color="#555555"),
)
yaxis_common = dict(
    range=[0, YMAX], showticklabels=False, ticks="inside", ticklen=7, tickwidth=1, tickcolor="black",
    showline=True, linecolor="black", linewidth=1, mirror="ticks", showgrid=False, zeroline=False,
)

fig.update_layout(
    width=1314, height=498,
    margin=dict(l=47, r=21, t=10, b=61),
    paper_bgcolor="white", plot_bgcolor="white",
    font=dict(family=FONT),
    showlegend=False, hovermode=False,
    xaxis=dict(domain=[0, 0.4703], anchor="y", **xaxis_common),
    yaxis=dict(domain=[0, 1], anchor="x", tickvals=left_yticks, **yaxis_common),
    xaxis2=dict(domain=[0.5293, 1], anchor="y2", **xaxis_common),
    yaxis2=dict(domain=[0, 1], anchor="x2", tickvals=right_yticks, **yaxis_common),
)

ann = []
# axis titles
for xc in [0.236, 0.7655]:
    ann.append(dict(text="Rest Wavelength (Å)", x=xc, y=-0.081, xref="paper", yref="paper",
                    xanchor="center", yanchor="middle", showarrow=False,
                    font=dict(family=FONT, size=34, color="black")))
for xc in [-0.0163, 0.512]:
    ann.append(dict(text="Relative <i>f</i><sub>λ</sub> + Constant", x=xc, y=0.505, xref="paper", yref="paper",
                    xanchor="center", yanchor="middle", textangle=-90, showarrow=False,
                    font=dict(family=FONT, size=37, color="black")))

LABEL_SIZE = 18
# left panel labels (centered)
left_labels = [
    ("fca_3, +1d", 8958, 378, BLUE), ("fca_2, +1d", 8958, 334.7, RED), ("fca_1, +1d", 4455, 292.7, GREEN),
    ("SN 2021gno", 9382, 221.5, GRAY), ("+3d", 9288, 206.5, GRAY),
    ("SN 2019ehk", 9373, 174.3, BLACK), ("+1d", 9288, 156.3, BLACK),
    ("iPTF16hgs", 9429, 101, ORANGE), ("+1d", 9288, 65.7, ORANGE),
    ("SN 2005E", 9386, 37.7, BROWN), ("+2d", 9393, 20.3, BROWN),
]
for t, x, y, c in left_labels:
    ann.append(dict(text="<b>%s</b>" % t, x=x, y=y, xref="x", yref="y", xanchor="center", yanchor="middle",
                    showarrow=False, borderpad=0, font=dict(family=FONT, size=LABEL_SIZE, color=c)))
# right panel labels (left aligned)
right_labels = [
    ("fca_1, +24d", 4016, 358, GREEN),
    ("SN 2019ehk, +24d", 3817, 306, BLACK), ("SN 2007ke, +20d", 3817, 289.3, MAGENTA),
    ("SN 2019ehk, +24d", 4016, 230.3, BLACK), ("SN 2005E, +24d", 4016, 211, ORANGE),
    ("SN 2019ehk, +59d", 4016, 129.7, BLACK), ("SN 2005E, +57d", 4016, 110.3, ORANGE),
    ("fca_1, +61d", 4016, 87, GREEN),
]
for t, x, y, c in right_labels:
    ann.append(dict(text="<b>%s</b>" % t, x=x, y=y, xref="x2", yref="y2", xanchor="left", yanchor="middle",
                    showarrow=False, borderpad=0, font=dict(family=FONT, size=LABEL_SIZE, color=c)))

fig.update_layout(annotations=ann)
fig.write_html("out.html")
